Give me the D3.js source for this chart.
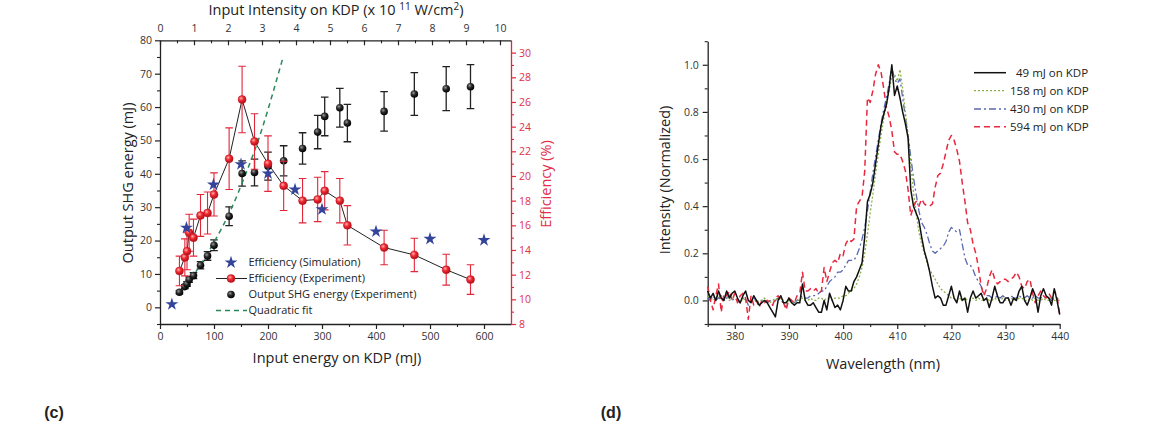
<!DOCTYPE html>
<html><head><meta charset="utf-8">
<script src="https://cdn.jsdelivr.net/npm/d3@7"></script>
<style>
body{margin:0;background:#fff;}
svg{display:block;font-family:"Open Sans",sans-serif;}
</style></head><body>
<svg id="c" width="1168" height="439"></svg>
<script>
// ---------- Panel (c) data ----------
const inputEnergy = [36,46,50,54,62,75,88,100,128,152,175,200,229,264,292,305,333,347,415,471,530,575];
const shgEnergy   = [4.5,6.2,7.0,8.3,9.5,12.6,15.4,18.6,27.3,40.1,40.4,42.3,43.9,47.6,52.5,57.2,59.8,55.2,58.7,63.9,65.5,66.1];
const shgError    = [0.5,0.6,0.7,0.8,0.9,1.1,1.3,1.6,2.8,3.8,4.0,4.2,4.5,4.7,5.0,5.8,5.8,5.6,5.9,6.4,6.6,6.6];
const effExp      = [12.3,13.4,13.9,15.4,15.0,16.8,17.0,18.5,21.4,26.2,22.8,21.0,19.2,18.0,18.1,18.8,18.0,16.0,14.2,13.6,12.4,11.6];
const effError    = [1.2,1.5,1.5,1.5,1.5,1.7,1.7,1.75,2.5,2.7,2.25,2.25,2.0,1.8,1.8,1.55,1.8,1.6,1.4,1.35,1.25,1.2];
const simEnergy   = [22,49,99,150,200,250,300,400,500,600];
const effSim      = [9.6,15.8,19.3,20.95,20.2,18.9,17.3,15.5,14.9,14.8];
const fitEnergy   = [36,70,100,130,160,190,228];
const fitShg      = [4.2,11.5,19.5,28.8,40.5,54,75];
const energyTicks = [0,100,200,300,400,500,600];
const shgTicks    = [0,10,20,30,40,50,60,70,80];
const effTicks    = [8,10,12,14,16,18,20,22,24,26,28,30];
const intensityTicks = [0,1,2,3,4,5,6,7,8,9,10];
const legendC = ["Efficiency (Simulation)","Efficiency (Experiment)","Output SHG energy (Experiment)","Quadratic fit"];

// ---------- Panel (d) data ----------
const wavelength = d3.range(375, 440.25, 0.5);
const spec49 = [
0.04,0.01,0.03,0.00,0.04,0.01,0.00,0.04,0.01,0.03,
0.04,0.01,-0.01,0.02,0.04,0.00,-0.01,0.02,0.00,-0.02,
-0.01,0.00,-0.01,-0.03,-0.05,-0.07,0.00,0.02,-0.01,-0.01,
0.01,-0.01,-0.02,-0.01,-0.01,0.07,0.00,-0.02,-0.02,-0.01,
-0.03,-0.05,-0.05,0.00,-0.04,0.03,0.00,-0.03,-0.02,-0.04,
0.00,0.06,0.04,0.04,0.08,0.10,0.13,0.16,0.27,0.42,
0.45,0.50,0.58,0.66,0.74,0.79,0.83,0.90,1.00,0.87,
0.91,0.86,0.80,0.75,0.69,0.47,0.40,0.37,0.34,0.27,
0.21,0.17,0.12,0.06,0.01,0.02,0.01,-0.02,-0.02,0.02,
0.06,0.01,-0.01,0.04,0.00,0.01,-0.05,0.01,0.04,0.01,
0.02,0.03,0.00,0.01,-0.03,0.01,0.06,0.02,-0.01,-0.01,
0.01,0.01,-0.02,0.01,0.00,0.04,0.06,0.00,-0.02,0.01,
0.05,0.02,-0.05,0.02,0.05,0.02,0.01,-0.02,0.05,0.00,
-0.06];
const spec158 = [
0.02,0.01,0.00,0.01,0.02,0.00,0.01,0.02,0.00,0.01,
0.01,0.00,-0.01,0.01,0.00,-0.01,0.00,0.01,-0.01,0.00,
0.00,0.01,0.00,-0.01,0.00,0.01,0.00,0.01,0.00,-0.01,
0.00,-0.01,-0.01,0.00,0.00,0.01,0.00,0.00,0.01,0.00,
0.00,0.01,0.01,0.00,0.01,0.01,0.00,0.01,0.01,0.01,
0.02,0.02,0.03,0.04,0.05,0.07,0.10,0.14,0.20,0.28,
0.37,0.45,0.54,0.62,0.70,0.77,0.83,0.89,0.95,0.96,
0.93,0.98,0.90,0.80,0.70,0.58,0.46,0.37,0.29,0.24,
0.20,0.16,0.13,0.11,0.09,0.07,0.05,0.04,0.03,0.02,
0.01,0.01,0.00,0.01,0.00,0.01,0.00,0.00,0.01,0.00,
0.01,0.00,0.00,0.01,0.00,0.00,0.01,0.00,0.00,0.01,
0.00,0.00,0.01,0.00,0.00,0.01,0.01,0.00,0.00,0.01,
0.00,0.01,0.00,0.00,0.01,0.00,0.00,0.01,0.00,0.00,
0.00];
const spec430 = [
0.01,0.00,0.02,0.00,0.01,0.02,0.00,0.01,0.02,0.00,
0.01,0.00,-0.01,0.01,0.01,-0.02,0.00,0.01,0.00,-0.01,
0.00,0.00,-0.01,0.00,-0.02,0.00,0.01,0.00,-0.01,-0.03,
0.00,0.00,-0.01,0.00,0.01,0.02,0.01,0.01,0.02,0.02,
0.02,0.03,0.04,0.04,0.06,0.08,0.09,0.10,0.12,0.12,
0.13,0.15,0.17,0.17,0.17,0.19,0.22,0.26,0.31,0.38,
0.46,0.54,0.61,0.68,0.75,0.81,0.86,0.92,0.99,0.94,
0.92,0.94,0.86,0.78,0.70,0.61,0.52,0.45,0.38,0.33,
0.31,0.28,0.24,0.21,0.20,0.21,0.22,0.23,0.25,0.29,
0.31,0.30,0.29,0.30,0.24,0.18,0.15,0.15,0.13,0.10,
0.08,0.06,0.03,0.02,0.02,0.01,0.01,0.02,0.01,0.02,
0.01,0.01,0.02,0.01,0.01,0.02,0.01,0.01,0.02,0.01,
0.01,0.02,0.01,0.01,0.02,0.01,0.01,0.00,0.01,0.01,
0.00];
const spec594 = [
0.06,0.00,-0.04,0.02,0.07,-0.05,0.03,0.02,0.04,0.00,
0.03,-0.01,0.02,0.03,0.01,-0.08,0.02,-0.02,0.00,-0.03,
0.00,-0.01,0.00,-0.01,-0.02,0.01,0.02,0.00,-0.01,-0.04,
0.01,0.00,-0.01,0.02,0.03,0.12,0.04,0.04,0.05,0.04,
0.05,0.03,0.04,0.14,0.08,0.12,0.16,0.17,0.16,0.20,
0.19,0.24,0.26,0.25,0.26,0.40,0.42,0.44,0.55,0.86,
0.84,0.89,0.96,1.00,0.97,0.90,0.82,0.78,0.72,0.63,
0.62,0.62,0.59,0.55,0.47,0.36,0.40,0.42,0.40,0.43,
0.41,0.40,0.40,0.41,0.48,0.53,0.54,0.58,0.63,0.68,
0.70,0.68,0.64,0.59,0.50,0.42,0.33,0.30,0.24,0.20,
0.14,0.06,0.02,0.05,0.10,0.13,0.09,0.07,0.08,0.09,
0.09,0.08,0.09,0.10,0.12,0.10,0.06,0.05,0.08,0.09,
0.03,-0.01,0.02,0.04,0.02,0.01,0.03,0.01,0.04,0.02,
-0.06];
const seriesNames = ["49 mJ on KDP","158 mJ on KDP","430 mJ on KDP","594 mJ on KDP"];
const seriesValues = [spec49, spec158, spec430, spec594];
const wavelengthTicks = [380,390,400,410,420,430,440];
const normTicks = [0,0.2,0.4,0.6,0.8,1.0];

// ---------- styles ----------
const RED = "#e3263a", RED_TXT = "#e0304a", BLUE_STAR = "#33449a", GREEN = "#2a8a5a";
const TICK_TXT = "#333", AX = "#222";
const seriesStyle = [
  {color:"#111", dash:null, w:1.5},
  {color:"#8bb04a", dash:"2,2", w:1.3},
  {color:"#5a68b0", dash:"7,3,2,3", w:1.3},
  {color:"#e8283e", dash:"6,4", w:1.5}
];

const svg = d3.select("#c");
const defs = svg.append("defs");
function ballGrad(id, c0, c1, c2){
  const g = defs.append("radialGradient").attr("id", id).attr("cx","38%").attr("cy","35%").attr("r","65%");
  g.append("stop").attr("offset","0%").attr("stop-color", c0);
  g.append("stop").attr("offset","45%").attr("stop-color", c1);
  g.append("stop").attr("offset","100%").attr("stop-color", c2);
}
ballGrad("gRed", "#ffb0b0", "#f02a30", "#b0101a");
ballGrad("gBlk", "#9a9a9a", "#2a2a2a", "#000");

function styleAxis(g, color, txtColor, fs){
  g.select(".domain").attr("stroke", color).attr("stroke-width", 1.3);
  g.selectAll(".tick line").attr("stroke", color).attr("stroke-width", 1.2);
  g.selectAll(".tick text").attr("fill", txtColor).style("font-size", fs||"10.5px").style("font-family","'Open Sans',sans-serif");
}
function minorAxis(axisFn, scale, vals, size, color, x, y){
  const g = svg.append("g").attr("transform", `translate(${x},${y})`)
    .call(axisFn(scale).tickValues(vals).tickSize(size).tickFormat(""));
  g.select(".domain").remove();
  g.selectAll(".tick line").attr("stroke", color).attr("stroke-width", 1.1);
  return g;
}

// ================= Panel (c) =================
const xL = d3.scaleLinear().domain([0,650]).range([160,511]);
const xTop = d3.scaleLinear().domain([0,351/34]).range([160,511]);
const yL = d3.scaleLinear().domain([-5,80]).range([324,40.3]);
const yR = d3.scaleLinear().domain([8,31]).range([324,40.3]);

minorAxis(d3.axisBottom, xL, d3.range(50,650,100), 3, AX, 0, 324);
minorAxis(d3.axisLeft, yL, d3.range(-5,80,10), 3, AX, 160, 0);
minorAxis(d3.axisRight, yR, d3.range(9,31,2), 3, RED, 511, 0);
minorAxis(d3.axisTop, xTop, d3.range(0.5,10.3,1), -3, AX, 0, 40.3);

const gxb = svg.append("g").attr("transform","translate(0,324)")
  .call(d3.axisBottom(xL).tickValues(energyTicks).tickSize(5).tickSizeOuter(0).tickPadding(4));
styleAxis(gxb, AX, TICK_TXT);
const gyl = svg.append("g").attr("transform","translate(160,0)")
  .call(d3.axisLeft(yL).tickValues(shgTicks).tickSize(5).tickSizeOuter(0).tickPadding(3));
styleAxis(gyl, AX, TICK_TXT);
const gyr = svg.append("g").attr("transform","translate(511,0)")
  .call(d3.axisRight(yR).tickValues(effTicks).tickSize(5).tickSizeOuter(0).tickPadding(3));
styleAxis(gyr, RED, RED_TXT);
const gxt = svg.append("g").attr("transform","translate(0,40.3)")
  .call(d3.axisTop(xTop).tickValues(intensityTicks).tickSize(-5).tickSizeOuter(0).tickPadding(8));
styleAxis(gxt, AX, TICK_TXT);

svg.append("text").attr("x",336).attr("y",15).attr("text-anchor","middle")
  .style("font-size","14.5px").attr("fill","#222")
  .call(t=>{
    t.append("tspan").text("Input Intensity on KDP (x 10 ");
    t.append("tspan").text("11").attr("dy",-5).style("font-size","10px");
    t.append("tspan").text(" W/cm").attr("dy",5);
    t.append("tspan").text("2").attr("dy",-5).style("font-size","10px");
    t.append("tspan").text(")").attr("dy",5);
  });
svg.append("text").attr("x",337).attr("y",363).attr("text-anchor","middle")
  .style("font-size","14.5px").attr("fill","#222").text("Input energy on KDP (mJ)");
svg.append("text").attr("transform","translate(128,183) rotate(-90)").attr("dy","0.35em")
  .attr("text-anchor","middle").style("font-size","14.5px").attr("fill","#222").text("Output SHG energy (mJ)");
svg.append("text").attr("transform","translate(546,184) rotate(-90)").attr("dy","0.35em")
  .attr("text-anchor","middle").style("font-size","14.5px").attr("fill",RED_TXT).text("Efficiency (%)");

const plotC = svg.append("g");
const blk = inputEnergy.map((e,i)=>({e, v:shgEnergy[i], err:shgError[i]}));
const capW = 3.8;
plotC.selectAll(".be").data(blk).join("path")
  .attr("d", d=>{const x=xL(d.e), y0=yL(d.v-d.err), y1=yL(d.v+d.err);
    return `M${x},${y0}V${y1}M${x-capW},${y0}H${x+capW}M${x-capW},${y1}H${x+capW}`;})
  .attr("stroke","#222").attr("stroke-width",1.3).attr("fill","none");
plotC.append("path").datum(fitEnergy.map((e,i)=>[e,fitShg[i]]))
  .attr("d", d3.line().x(d=>xL(d[0])).y(d=>yL(d[1])).curve(d3.curveNatural))
  .attr("fill","none").attr("stroke",GREEN).attr("stroke-width",1.5).attr("stroke-dasharray","5,4");
plotC.selectAll(".bp").data(blk).join("circle")
  .attr("cx",d=>xL(d.e)).attr("cy",d=>yL(d.v)).attr("r",3.8).attr("fill","url(#gBlk)");

const red = inputEnergy.map((e,i)=>({e, v:effExp[i], err:effError[i]}));
plotC.append("path").datum(red)
  .attr("d", d3.line().x(d=>xL(d.e)).y(d=>yR(d.v)))
  .attr("fill","none").attr("stroke","#222").attr("stroke-width",1);
plotC.selectAll(".re").data(red).join("path")
  .attr("d", d=>{const x=xL(d.e), y0=yR(d.v-d.err), y1=yR(d.v+d.err);
    return `M${x},${y0}V${y1}M${x-capW},${y0}H${x+capW}M${x-capW},${y1}H${x+capW}`;})
  .attr("stroke",RED).attr("stroke-width",1.1).attr("fill","none");
plotC.selectAll(".rp").data(red).join("circle")
  .attr("cx",d=>xL(d.e)).attr("cy",d=>yR(d.v)).attr("r",4).attr("fill","url(#gRed)")
  .attr("stroke","#c01020").attr("stroke-width",0.5);

const star = d3.symbol().type(d3.symbolStar).size(52);
plotC.selectAll(".st").data(simEnergy.map((e,i)=>({e,v:effSim[i]}))).join("path")
  .attr("transform",d=>`translate(${xL(d.e)},${yR(d.v)})`).attr("d",star).attr("fill",BLUE_STAR);

const lg = svg.append("g").style("font-size","11px").attr("fill","#222");
const ly = [262.5,278.5,294.5,310.5];
lg.append("path").attr("transform",`translate(231,${ly[0]})`).attr("d",star).attr("fill",BLUE_STAR);
lg.append("line").attr("x1",216).attr("x2",247).attr("y1",ly[1]).attr("y2",ly[1]).attr("stroke","#222").attr("stroke-width",1);
lg.append("circle").attr("cx",231).attr("cy",ly[1]).attr("r",4).attr("fill","url(#gRed)").attr("stroke","#c01020").attr("stroke-width",0.5);
lg.append("circle").attr("cx",231).attr("cy",ly[2]).attr("r",3.8).attr("fill","url(#gBlk)");
lg.append("line").attr("x1",216).attr("x2",247).attr("y1",ly[3]).attr("y2",ly[3]).attr("stroke",GREEN).attr("stroke-width",1.5).attr("stroke-dasharray","5,4");
legendC.forEach((t,i)=>lg.append("text").attr("x",248.5).attr("y",ly[i]).attr("dy","0.35em").attr("fill","#222").text(t));

// ================= Panel (d) =================
const xS = d3.scaleLinear().domain([375,440]).range([707.7,1059.7]);
const yS = d3.scaleLinear().domain([-0.1,1.1]).range([324,41.2]);

minorAxis(d3.axisBottom, xS, [375,385,395,405,415,425,435], 3, AX, 0, 324);
minorAxis(d3.axisLeft, yS, [-0.1,0.1,0.3,0.5,0.7,0.9,1.1], 3, AX, 707.7, 0);
const gsx = svg.append("g").attr("transform","translate(0,324)")
  .call(d3.axisBottom(xS).tickValues(wavelengthTicks).tickSize(5).tickSizeOuter(0).tickPadding(4));
styleAxis(gsx, AX, TICK_TXT);
const gsy = svg.append("g").attr("transform","translate(707.7,0)")
  .call(d3.axisLeft(yS).tickValues(normTicks).tickFormat(d3.format(".1f")).tickSize(5).tickSizeOuter(0).tickPadding(4));
styleAxis(gsy, AX, TICK_TXT);

svg.append("text").attr("x",883).attr("y",369).attr("text-anchor","middle")
  .style("font-size","14.5px").attr("fill","#222").text("Wavelength (nm)");
svg.append("text").attr("transform","translate(665,180) rotate(-90)").attr("dy","0.35em")
  .attr("text-anchor","middle").style("font-size","14.5px").attr("fill","#222").text("Intensity (Normalized)");

const specLine = d3.line().x((d,i)=>xS(wavelength[i])).y(d=>yS(d));
const order = [2,1,3,0];
order.forEach(k=>{
  const s = seriesStyle[k];
  svg.append("path").datum(seriesValues[k]).attr("d", specLine)
    .attr("fill","none").attr("stroke", s.color).attr("stroke-width", s.w)
    .attr("stroke-dasharray", s.dash).attr("stroke-linejoin","round");
});

const lgy = [72.7,90.7,109,126.7];
const lgd = svg.append("g").style("font-size","11.5px");
seriesNames.forEach((n,i)=>{
  const s = seriesStyle[i];
  lgd.append("line").attr("x1",974).attr("x2",1006).attr("y1",lgy[i]).attr("y2",lgy[i])
    .attr("stroke",s.color).attr("stroke-width",s.w).attr("stroke-dasharray",s.dash);
  lgd.append("text").attr("x", i===0 ? 1016 : 1010).attr("y",lgy[i]).attr("dy","0.35em").attr("fill","#222").text(n);
});

svg.append("text").attr("x",54).attr("y",418).attr("text-anchor","middle")
  .style("font-family","'Liberation Sans',Arial,sans-serif").style("font-weight","bold").style("font-size","16px").attr("fill","#222").text("(c)");
svg.append("text").attr("x",611).attr("y",418).attr("text-anchor","middle")
  .style("font-family","'Liberation Sans',Arial,sans-serif").style("font-weight","bold").style("font-size","16px").attr("fill","#222").text("(d)");
</script>
</body></html>
